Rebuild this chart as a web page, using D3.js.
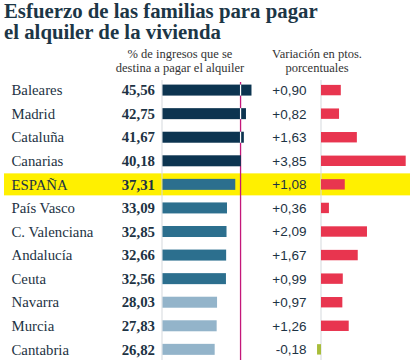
<!DOCTYPE html>
<html>
<head>
<meta charset="utf-8">
<script src="https://cdn.jsdelivr.net/npm/d3@7"></script>
<style>
  html, body { margin: 0; padding: 0; background: #fff; }
  svg { display: block; }
</style>
</head>
<body>
<svg id="chart" width="414" height="360"></svg>
<script>
const regions = ["Baleares", "Madrid", "Cataluña", "Canarias", "ESPAÑA", "País Vasco", "C. Valenciana", "Andalucía", "Ceuta", "Navarra", "Murcia", "Cantabria"];
const shares = [45.56, 42.75, 41.67, 40.18, 37.31, 33.09, 32.85, 32.66, 32.56, 28.03, 27.83, 26.82];
const changes = [0.90, 0.82, 1.63, 3.85, 1.08, 0.36, 2.09, 1.67, 0.99, 0.97, 1.26, -0.18];
const highlighted = "ESPAÑA";
const referenceValue = 40;
const titleLines = ["Esfuerzo de las familias para pagar", "el alquiler de la vivienda"];
const leftHeader = ["% de ingresos que se", "destina a pagar el alquiler"];
const rightHeader = ["Variación en ptos.", "porcentuales"];

const svg = d3.select("#chart");
const serif = "'Liberation Serif', 'DejaVu Serif', serif";
const sans = "'Liberation Sans', Arial, sans-serif";
const ink = "#1d3344";

const locale = d3.formatLocale({decimal: ",", thousands: ".", grouping: [3], currency: ["", "€"], minus: "-"});
const fmtShare = locale.format(".2f");
const fmtChange = locale.format("+.2f");

const rows = regions.map((r, i) => ({region: r, share: shares[i], change: changes[i]}));

const y = d3.scaleBand().domain(regions).range([78.3, 78.3 + 23.57 * regions.length]);
const x = d3.scaleLinear().domain([0, 50]).range([162, 260.2]);
const xc = d3.scaleLinear().domain([0, 4]).range([321, 409]);
const shareColor = d3.scaleThreshold().domain([30, 40]).range(["#93b4ca", "#2c6f8e", "#0c3450"]);
const barH = 11;

// Title
const titleG = svg.append("g")
  .attr("font-family", serif).attr("font-weight", "bold").attr("font-size", 20.8)
  .attr("fill", "#1c3646");
titleG.selectAll("text").data(titleLines).join("text")
  .attr("x", 4).attr("y", (d, i) => 17.5 + i * 21.3)
  .text(d => d);

// Column headers
function header(lines, cx) {
  svg.append("g")
    .attr("text-anchor", "middle")
    .attr("font-family", serif).attr("font-size", 12.5).attr("fill", "#333")
    .selectAll("text").data(lines).join("text")
    .attr("x", cx).attr("y", (d, i) => 57.5 + i * 14)
    .text(d => d);
}
header(leftHeader, 180);
header(rightHeader, 317);

// Highlight band
const hl = rows.find(d => d.region === highlighted);
svg.append("rect")
  .attr("x", 4).attr("width", 406)
  .attr("y", y(hl.region) + y.bandwidth() / 2 - 11).attr("height", 22)
  .attr("fill", "#fff000");

// Axis lines
const yTop = 80, yBottom = 360;
svg.append("line").attr("x1", x(0)).attr("x2", x(0)).attr("y1", yTop).attr("y2", yBottom)
  .attr("stroke", "#d5d9dd").attr("stroke-width", 1);
svg.append("line").attr("x1", xc(0)).attr("x2", xc(0)).attr("y1", yTop).attr("y2", yBottom)
  .attr("stroke", "#d5d9dd").attr("stroke-width", 1);

// Reference line (behind bars)
svg.append("line").attr("x1", x(referenceValue)).attr("x2", x(referenceValue))
  .attr("y1", 82).attr("y2", yBottom)
  .attr("stroke", "#c4177a").attr("stroke-width", 1.3);

const cy = d => y(d.region) + y.bandwidth() / 2;

// Share bars
svg.append("g").selectAll("rect").data(rows).join("rect")
  .attr("x", x(0) + 0.5)
  .attr("y", d => cy(d) - barH / 2)
  .attr("width", d => x(d.share) - x(0) - 0.5)
  .attr("height", barH)
  .attr("fill", d => shareColor(d.share));

// White notch where reference line crosses bars
svg.append("g").selectAll("line").data(rows.filter(d => d.share > referenceValue + 0.5)).join("line")
  .attr("x1", x(referenceValue)).attr("x2", x(referenceValue))
  .attr("y1", d => cy(d) - barH / 2).attr("y2", d => cy(d) + barH / 2)
  .attr("stroke", "#fff").attr("stroke-width", 1.2);

// Change bars
svg.append("g").selectAll("rect").data(rows).join("rect")
  .attr("x", d => xc(Math.min(0, d.change)))
  .attr("y", d => cy(d) - barH / 2 + 0.3)
  .attr("width", d => Math.abs(xc(d.change) - xc(0)))
  .attr("height", barH - 0.6)
  .attr("fill", d => d.change < 0 ? "#a8bd3a" : "#e8354f");

// Region labels
svg.append("g").selectAll("text").data(rows).join("text")
  .attr("x", 11.5).attr("y", d => cy(d)).attr("dy", "0.35em")
  .attr("font-family", serif).attr("font-size", 14.8).attr("fill", ink)
  .text(d => d.region);

// Share values
svg.append("g").selectAll("text").data(rows).join("text")
  .attr("x", 155).attr("y", d => cy(d)).attr("dy", "0.35em")
  .attr("text-anchor", "end")
  .attr("font-family", serif).attr("font-weight", "bold").attr("font-size", 14.8).attr("fill", ink)
  .text(d => fmtShare(d.share));

// Change values
svg.append("g").selectAll("text").data(rows).join("text")
  .attr("x", 306.5).attr("y", d => cy(d)).attr("dy", "0.36em")
  .attr("text-anchor", "end")
  .attr("font-family", sans).attr("font-size", 13.5).attr("fill", ink)
  .text(d => fmtChange(d.change));
</script>
</body>
</html>
